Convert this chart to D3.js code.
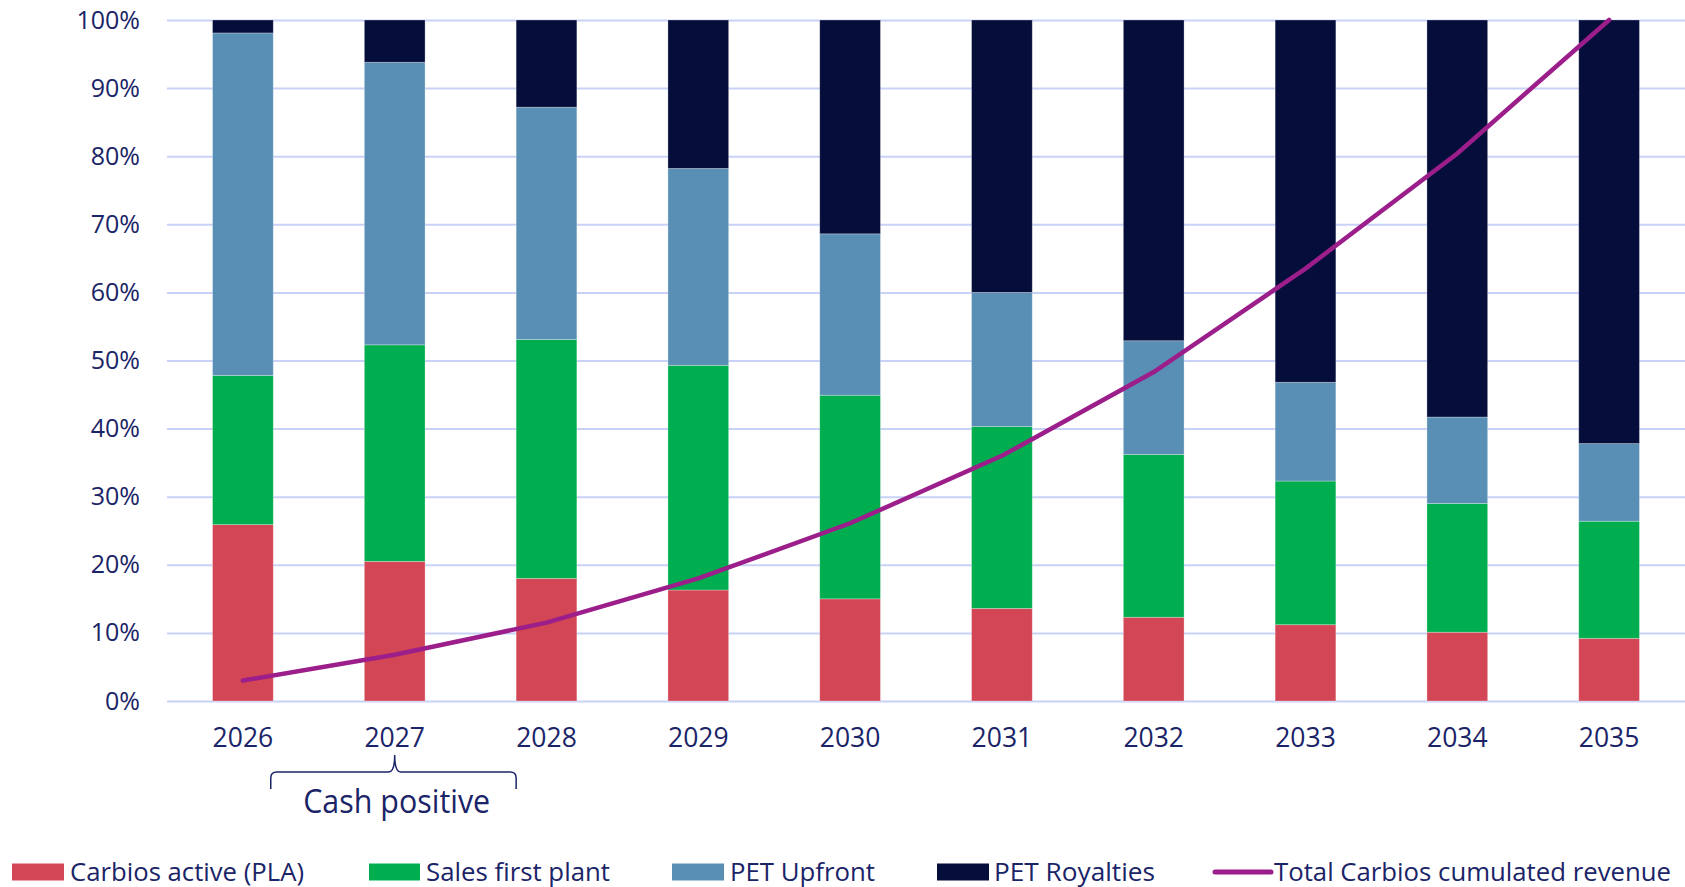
<!DOCTYPE html>
<html>
<head>
<meta charset="utf-8">
<script src="https://cdn.jsdelivr.net/npm/d3@7"></script>
<style>
  body { margin: 0; background: #fff; }
  text { font-family: "Open Sans", sans-serif; fill: #1a2467; }
</style>
</head>
<body>
<svg id="chart" width="1685" height="887"></svg>
<script>
const years = ["2026", "2027", "2028", "2029", "2030", "2031", "2032", "2033", "2034", "2035"];
const carbiosPla = [25.9, 20.5, 18.0, 16.3, 15.0, 13.6, 12.3, 11.2, 10.1, 9.2];
const salesFirstPlant = [21.9, 31.8, 35.1, 33.0, 29.9, 26.7, 23.9, 21.1, 18.9, 17.2];
const petUpfront = [50.3, 41.5, 34.1, 28.9, 23.7, 19.7, 16.7, 14.5, 12.7, 11.4];
const petRoyalties = [1.9, 6.2, 12.8, 21.8, 31.4, 40.0, 47.1, 53.2, 58.3, 62.2];
const cumulatedRevenue = [3.0, 6.8, 11.5, 18.0, 26.1, 36.0, 48.3, 63.5, 80.4, 100];
const yTicks = [0, 10, 20, 30, 40, 50, 60, 70, 80, 90, 100];

const seriesKeys = ["pla", "sales", "upfront", "royalties"];
const seriesNames = ["Carbios active (PLA)", "Sales first plant", "PET Upfront", "PET Royalties"];
const seriesColors = ["#d34655", "#00ae4f", "#5a8fb5", "#050d3a"];
const lineName = "Total Carbios cumulated revenue";
const lineColor = "#9b1e8b";

const svg = d3.select("#chart");
const width = 1685, height = 887;
const margin = {top: 20, right: 0, bottom: 186, left: 167};
const plotW = width - margin.left - margin.right;
const plotH = height - margin.top - margin.bottom;

const rows = years.map((y, i) => ({
	year: y,
	pla: carbiosPla[i],
	sales: salesFirstPlant[i],
	upfront: petUpfront[i],
	royalties: petRoyalties[i]
}));

const xScale = d3.scaleBand().domain(years).range([0, plotW]).paddingInner(0.6).paddingOuter(0.3);
const yScale = d3.scaleLinear().domain([0, 100]).range([plotH, 0]);

const g = svg.append("g")
	.attr("transform", `translate(${margin.left}, ${margin.top})`);

// grid
g.append("g")
	.attr("class", "grid")
	.call(d3.axisLeft(yScale).tickValues(yTicks).tickSize(-plotW).tickFormat(""))
	.call(s => s.select(".domain").remove())
	.selectAll("line")
	.attr("stroke", "#c9d1f7")
	.attr("stroke-width", 2);

// y labels
g.append("g")
	.attr("class", "yAxis")
	.call(d3.axisLeft(yScale).tickValues(yTicks).tickSize(0).tickPadding(27).tickFormat(d => d + "%"))
	.call(s => s.select(".domain").remove())
	.selectAll("text")
	.attr("font-size", "25px")
	.style("fill", "#1a2467");

// bars
const stacked = d3.stack().keys(seriesKeys)(rows);
g.selectAll(".layer")
	.data(stacked)
	.enter()
	.append("g")
	.attr("class", "layer")
	.attr("fill", (d, i) => seriesColors[i])
	.selectAll("rect")
	.data(d => d)
	.enter()
	.append("rect")
	.attr("x", d => xScale(d.data.year))
	.attr("y", d => yScale(d[1]))
	.attr("width", xScale.bandwidth())
	.attr("height", d => yScale(d[0]) - yScale(d[1]))
	.attr("stroke", "#ffffff")
	.attr("stroke-opacity", 0.35)
	.attr("stroke-width", 0.8);

// x labels
g.append("g")
	.attr("class", "xAxis")
	.attr("transform", `translate(0, ${plotH})`)
	.call(d3.axisBottom(xScale).tickSize(0).tickPadding(27))
	.call(s => s.select(".domain").remove())
	.selectAll("text")
	.attr("font-size", "26.5px")
	.style("fill", "#1a2467");

// cumulated revenue line
const line = d3.line()
	.x((d, i) => xScale(years[i]) + xScale.bandwidth() / 2)
	.y(d => yScale(d));

g.append("path")
	.datum(cumulatedRevenue)
	.attr("d", line)
	.attr("fill", "none")
	.attr("stroke", lineColor)
	.attr("stroke-width", 4.5)
	.attr("stroke-linecap", "round");

// brace "Cash positive"
const bx0 = xScale("2026") + xScale.bandwidth() - 2.5;
const bx1 = xScale("2028");
const bxm = xScale("2027") + xScale.bandwidth() / 2;
const byTop = 752 - margin.top + 20;
const byEnd = 789 - margin.top;
const byTip = 755 - margin.top;
g.append("path")
	.attr("d", `M${bx0},${byEnd} L${bx0},${byTop + 6} Q${bx0},${byTop} ${bx0 + 6},${byTop}
		L${bxm - 6},${byTop} Q${bxm},${byTop} ${bxm},${byTip}
		Q${bxm},${byTop} ${bxm + 6},${byTop} L${bx1 - 6},${byTop}
		Q${bx1},${byTop} ${bx1},${byTop + 6} L${bx1},${byEnd}`)
	.attr("fill", "none")
	.attr("stroke", "#1a2467")
	.attr("stroke-width", 1.5);

g.append("text")
	.attr("x", bxm + 2)
	.attr("y", 813 - margin.top)
	.attr("text-anchor", "middle")
	.attr("font-size", "32px")
	.attr("textLength", 187)
	.attr("lengthAdjust", "spacingAndGlyphs")
	.text("Cash positive");

// legend
const legendY = 872;
const legendItems = [
	{sx: 12, sw: 52, tx: 70, tw: 234},
	{sx: 369, sw: 51, tx: 426, tw: 184},
	{sx: 672, sw: 52, tx: 730, tw: 145},
	{sx: 937, sw: 52, tx: 994, tw: 161}
];
const legend = svg.append("g").attr("class", "legend");
legendItems.forEach((it, i) => {
	legend.append("rect")
		.attr("x", it.sx)
		.attr("y", legendY - 8.5)
		.attr("width", it.sw)
		.attr("height", 17)
		.attr("fill", seriesColors[i]);
	legend.append("text")
		.attr("x", it.tx)
		.attr("y", legendY + 9)
		.attr("font-size", "25px")
		.attr("textLength", it.tw)
		.attr("lengthAdjust", "spacingAndGlyphs")
		.text(seriesNames[i]);
});
legend.append("line")
	.attr("x1", 1215)
	.attr("x2", 1271)
	.attr("y1", legendY)
	.attr("y2", legendY)
	.attr("stroke", lineColor)
	.attr("stroke-width", 5)
	.attr("stroke-linecap", "round");
legend.append("text")
	.attr("x", 1274)
	.attr("y", legendY + 9)
	.attr("font-size", "25px")
	.attr("textLength", 397)
	.attr("lengthAdjust", "spacingAndGlyphs")
	.text(lineName);
</script>
</body>
</html>
